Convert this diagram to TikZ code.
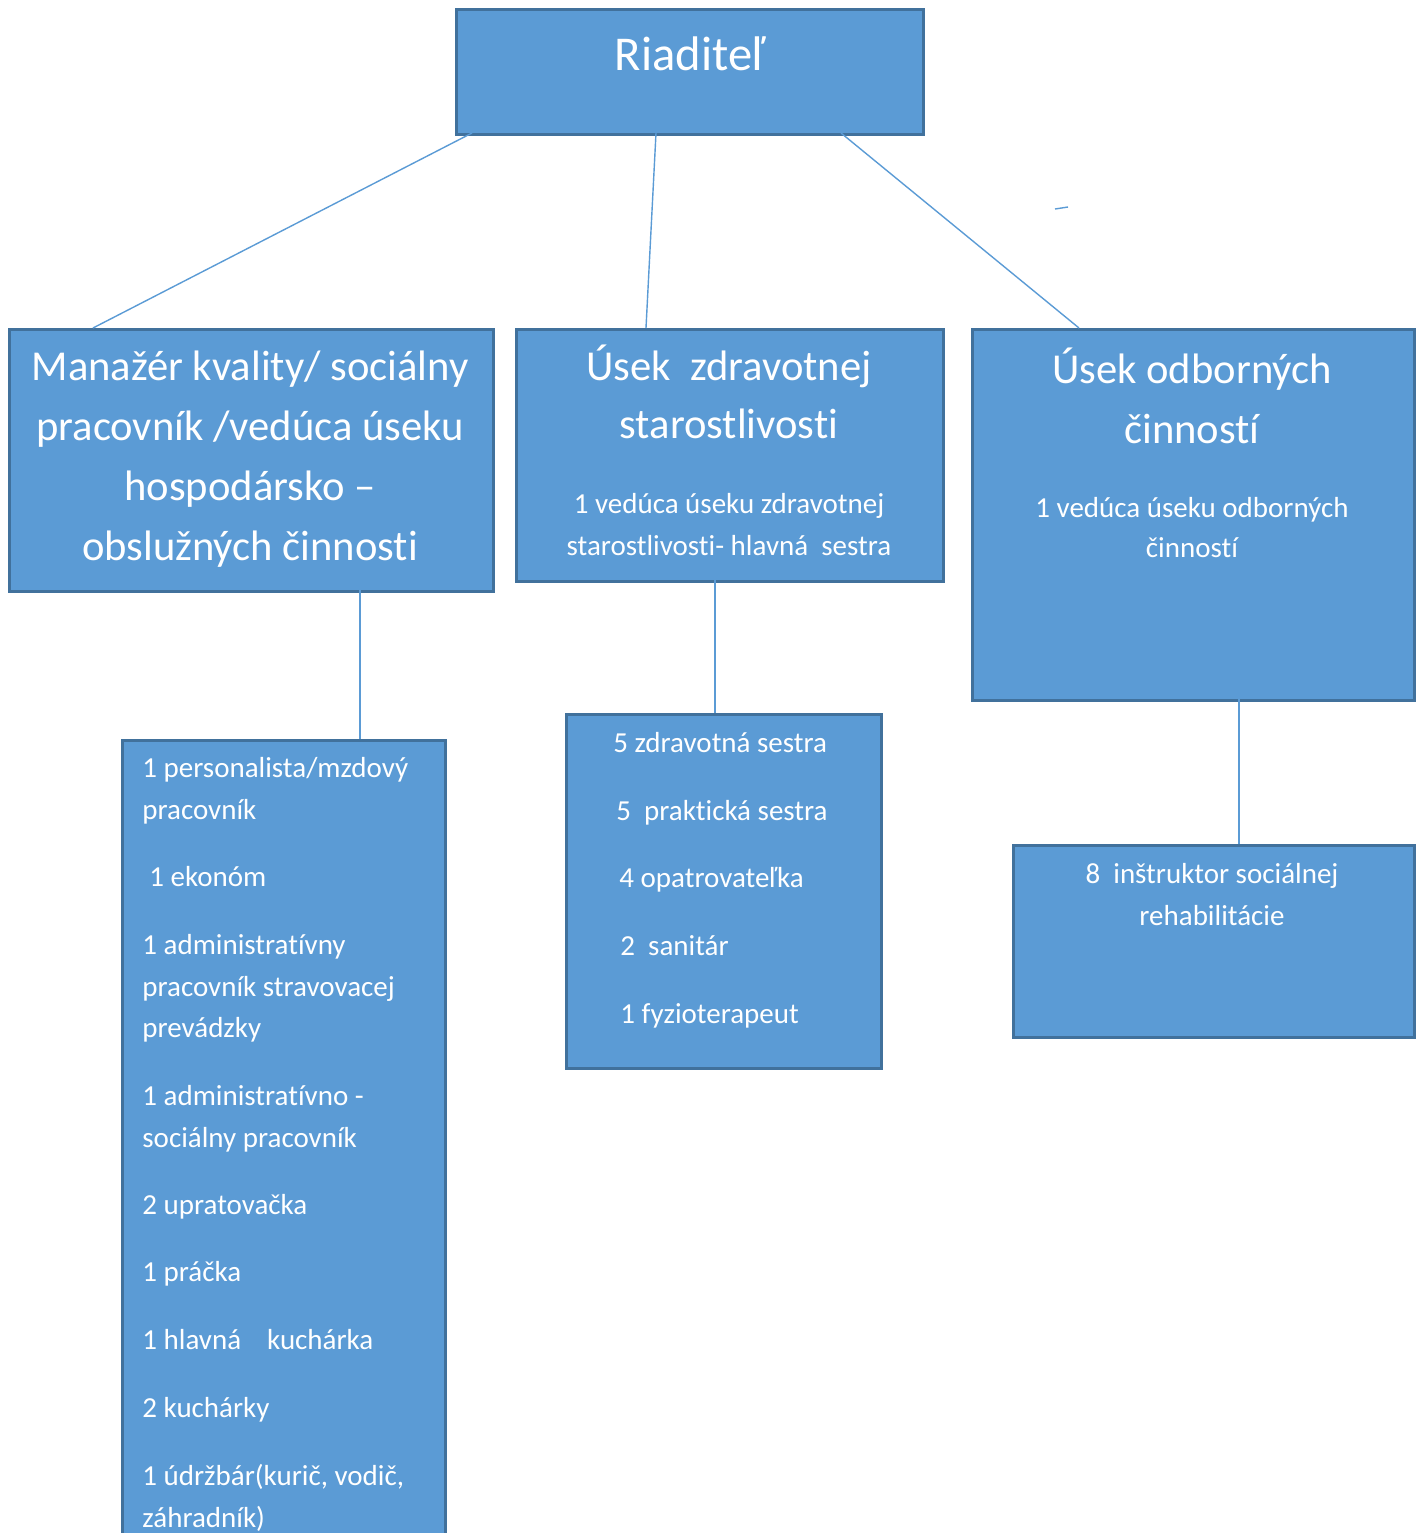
\documentclass[tikz,border=0pt]{standalone}
\usepackage{fontspec}
\setmainfont[Ligatures={NoCommon}]{Carlito}
\definecolor{boxfill}{HTML}{5B9BD5}
\definecolor{boxline}{HTML}{41719C}
\definecolor{conn}{HTML}{5B9BD5}
\begin{document}
\begin{tikzpicture}[x=0.5pt,y=-0.5pt,
  box/.style={draw=boxline, line width=1.4pt, fill=boxfill, anchor=north west, inner sep=0pt},
  conline/.style={draw=conn, line width=0.7pt},
  big/.style={text=white, font=\fontsize{24.3}{30}\selectfont, inner sep=0pt, anchor=base},
  head/.style={text=white, font=\fontsize{21.3}{24}\selectfont, inner sep=0pt, anchor=base},
  small/.style={text=white, font=\fontsize{14.5}{16}\selectfont, inner sep=0pt, anchor=base},
  lefttxt/.style={text=white, font=\fontsize{14.5}{16}\selectfont, inner sep=0pt, anchor=base west}]
\useasboundingbox (0,0) rectangle (1421,1533);
\clip (0,0) rectangle (1421,1533);
% boxes
\node[box, minimum width=233.5pt, minimum height=62.5pt] (R) at (455,8) {};
\node[box, minimum width=242pt, minimum height=131pt] (A) at (8,328) {};
\node[box, minimum width=213.5pt, minimum height=126pt] (B) at (515,328) {};
\node[box, minimum width=221pt, minimum height=185.5pt] (C) at (971,328) {};
\node[box, minimum width=161.5pt, minimum height=420pt] (D) at (121,739) {};
\node[box, minimum width=157.5pt, minimum height=177pt] (E) at (565,713) {};
\node[box, minimum width=200.5pt, minimum height=96pt] (F) at (1012,844) {};
% connector coordinates
\coordinate (r1) at (472,133); \coordinate (a1) at (93,328);
\coordinate (r2) at (656,133); \coordinate (b1) at (646,328);
\coordinate (r3) at (841,133); \coordinate (c1) at (1079,328);
\coordinate (a2) at (360,590); \coordinate (d1) at (360,739);
\coordinate (b2) at (715,580); \coordinate (e1) at (715,713);
\coordinate (c2) at (1239,699); \coordinate (f1) at (1239,844);
\coordinate (s1) at (1055,209); \coordinate (s2) at (1068,207);
\draw[conline] (r1) -- (a1);
\draw[conline] (r2) -- (b1);
\draw[conline] (r3) -- (c1);
\draw[conline] (a2) -- (d1);
\draw[conline] (b2) -- (e1);
\draw[conline] (c2) -- (f1);
\draw[conline] (s1) -- (s2);
% texts
\node[big] (tR) at (690,70) {Riaditeľ};
\node[head] (tA1) at (250,380) {Manažér kvality/ sociálny};
\node[head] (tA2) at (250,440) {pracovník /vedúca úseku};
\node[head] (tA3) at (250,500) {hospodársko –};
\node[head] (tA4) at (250,560) {obslužných činnosti};
\node[head] (tB1) at (729,380) {Úsek~ zdravotnej};
\node[head] (tB2) at (729,438) {starostlivosti};
\node[small] (tB3) at (729,513) {1 vedúca úseku zdravotnej};
\node[small] (tB4) at (729,555) {starostlivosti- hlavná~ sestra};
\node[head] (tC1) at (1192,383) {Úsek odborných};
\node[head] (tC2) at (1192,443) {činností};
\node[small] (tC3) at (1192,517) {1 vedúca úseku odborných};
\node[small] (tC4) at (1192,557) {činností};
\node[small] (tF1) at (1212,883) {8~ inštruktor sociálnej};
\node[small] (tF2) at (1212,925) {rehabilitácie};
\node[lefttxt] (tE1) at (613,752) {5 zdravotná sestra};
\node[lefttxt] (tE2) at (616,820) {5~ praktická sestra};
\node[lefttxt] (tE3) at (619,887) {4 opatrovateľka};
\node[lefttxt] (tE4) at (620,955) {2~ sanitár};
\node[lefttxt] (tE5) at (620,1023) {1 fyzioterapeut};
\node[lefttxt] (tD1) at (142,777) {1 personalista/mzdový};
\node[lefttxt] (tD2) at (142,819) {pracovník};
\node[lefttxt] (tD3) at (149,886) {1 ekonóm};
\node[lefttxt] (tD4) at (142,954) {1 administratívny};
\node[lefttxt] (tD5) at (142,996) {pracovník stravovacej};
\node[lefttxt] (tD6) at (142,1037) {prevádzky};
\node[lefttxt] (tD7) at (142,1105) {1 administratívno -};
\node[lefttxt] (tD8) at (142,1147) {sociálny pracovník};
\node[lefttxt] (tD9) at (142,1214) {2 upratovačka};
\node[lefttxt] (tD10) at (142,1281) {1 práčka};
\node[lefttxt] (tD11) at (142,1349) {1 hlavná\hspace{13pt}kuchárka};
\node[lefttxt] (tD12) at (142,1417) {2 kuchárky};
\node[lefttxt] (tD13) at (142,1485) {1 údržbár(kurič, vodič,};
\node[lefttxt] (tD14) at (142,1527) {záhradník)};
\end{tikzpicture}
\end{document}
